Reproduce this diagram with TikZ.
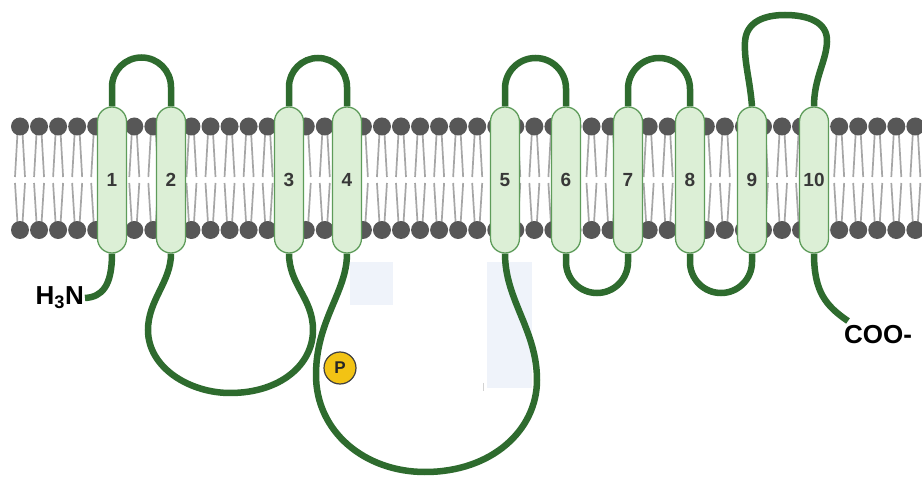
\documentclass[tikz,border=0pt]{standalone}
\usepackage{fontspec}
\setmainfont{Liberation Sans}
\usetikzlibrary{calc}
\definecolor{loopgreen}{HTML}{2E6B2E}
\definecolor{helixfill}{HTML}{DCEFD6}
\definecolor{helixdraw}{HTML}{5E9C5A}
\definecolor{headgray}{HTML}{575757}
\definecolor{tailgray}{HTML}{A6A6A6}
\definecolor{paleblue}{HTML}{EFF3FA}
\definecolor{pyellow}{HTML}{F2C314}
\pgfdeclarelayer{bg}
\pgfsetlayers{bg,main}
\begin{document}
\begin{tikzpicture}[x=1pt,y=-1pt,
  helix/.style={draw=helixdraw, line width=1.3pt, fill=helixfill, rounded corners=14.5pt,
    minimum width=29pt, minimum height=146pt, inner sep=0pt,
    font=\fontsize{19}{19}\selectfont\bfseries, text=black!78},
  chain/.style={draw=loopgreen, line width=6.5pt},
  tail/.style={draw=tailgray, line width=1.7pt},
  head/.style={fill=headgray},
  term/.style={font=\fontsize{26}{26}\selectfont\bfseries, text=black, inner sep=1pt},
  pcirc/.style={circle, draw=black!75, line width=1.2pt, fill=pyellow, minimum size=32pt,
    inner sep=0pt, font=\fontsize{17}{17}\selectfont\bfseries, text=black!85},
  shade/.style={fill=paleblue, draw=none}]
\useasboundingbox (0,0) rectangle (922,486);

% helices
\node[helix] (h1) at (112,180) {1};
\node[helix] (h2) at (171,180) {2};
\node[helix] (h3) at (289,180) {3};
\node[helix] (h4) at (347,180) {4};
\node[helix] (h5) at (505,180) {5};
\node[helix] (h6) at (566,180) {6};
\node[helix] (h7) at (628,180) {7};
\node[helix] (h8) at (690,180) {8};
\node[helix] (h9) at (752,180) {9};
\node[helix] (h10) at (814,180) {10};

% terminals and phosphate
\node[term, anchor=east] (nterm) at (85,298) {H\textsubscript{3}N};
\node[term, anchor=west] (cterm) at (843,335) {COO-};
\coordinate (cend) at (848,321);

\begin{pgfonlayer}{bg}
  \fill[white] (0,0) rectangle (922,486);
  % pale rectangles
  \path[shade] (350,262) rectangle (393,305);
  \path[shade] (487,262) rectangle (532,388);
  \draw[gray!35, line width=0.8pt] (483,383) -- (483,391);

  % membrane
  \foreach \i in {0,...,47}{
    \pgfmathsetmacro\xx{20+19.05*\i}
    \draw[tail] (\xx-2.5,133) -- (\xx-5,177);
    \draw[tail] (\xx+2.5,133) -- (\xx+5,177);
    \draw[tail] (\xx-5,183) -- (\xx-2.5,223);
    \draw[tail] (\xx+5,183) -- (\xx+2.5,223);
    \fill[head] (\xx,126.5) circle[radius=9];
    \fill[head] (\xx,230) circle[radius=9];
  }

  % extracellular loops
  \draw[chain] (h1.north) -- (112,87) arc[start angle=180,end angle=360,radius=29.5] -- (h2.north);
  \draw[chain] (h3.north) -- (289,87) arc[start angle=180,end angle=360,radius=29] -- (h4.north);
  \draw[chain] (h5.north) -- (505,88.5) arc[start angle=180,end angle=360,radius=30.5] -- (h6.north);
  \draw[chain] (h7.north) -- (628,89) arc[start angle=180,end angle=360,radius=31] -- (h8.north);
  \draw[chain] (h9.north) .. controls (750,80) and (744,62) .. (745,42)
     .. controls (746,22) and (764,15) .. (785,15)
     .. controls (808,15) and (828,22) .. (827,42)
     .. controls (826,62) and (814,78) .. (h10.north);

  % cytoplasmic loops
  \draw[chain] (h2.south) .. controls (171,282) and (148,300) .. (148,330)
     .. controls (148,368) and (190,393) .. (230,393)
     .. controls (280,393) and (313,365) .. (313,330)
     .. controls (313,298) and (289,285) .. (h3.south);
  \draw[chain] (h4.south) .. controls (347,292) and (316,320) .. (316,375)
     .. controls (316,432) and (365,472) .. (425,472)
     .. controls (492,472) and (537,430) .. (537,380)
     .. controls (537,330) and (505,300) .. (h5.south);
  \draw[chain] (h6.south) -- (566,262) arc[start angle=180,end angle=0,radius=31] -- (h7.south);
  \draw[chain] (h8.south) -- (690,262) arc[start angle=180,end angle=0,radius=31] -- (h9.south);

  % termini
  \draw[chain] (h1.south) .. controls (112,286) and (102,297) .. (nterm.east);
  \draw[chain] (h10.south) .. controls (814,292) and (826,306) .. (cend);
\end{pgfonlayer}

\node[pcirc] (phos) at (340,368) {P};
\end{tikzpicture}
\end{document}
